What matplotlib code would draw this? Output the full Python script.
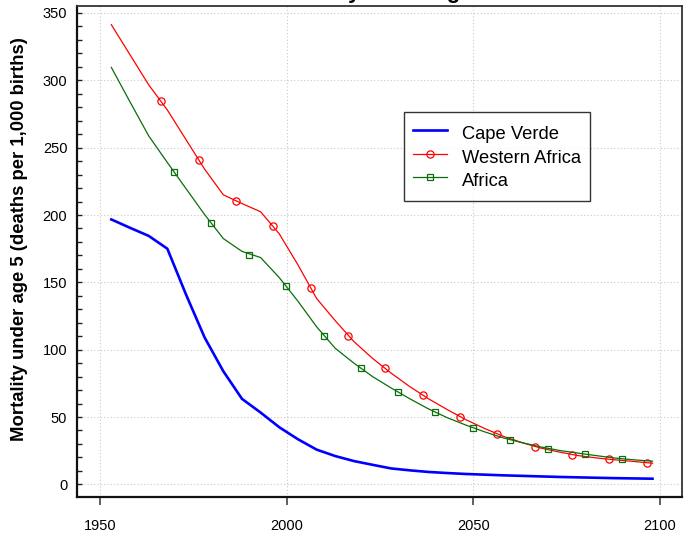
import matplotlib
matplotlib.use("Agg")
import matplotlib.pyplot as plt
from matplotlib.legend_handler import HandlerTuple

# -------------------------------
# DATA
# -------------------------------

years = [1953, 1958, 1963, 1968, 1973, 1978, 1983, 1988, 1993, 1998,
         2003, 2008, 2013, 2018, 2023, 2028, 2033, 2038, 2043, 2048,
         2053, 2058, 2063, 2068, 2073, 2078, 2083, 2088, 2093, 2098]

cape_verde = [196.7, 190.5, 184.5, 175.0, 141.0, 109.0, 84.0, 63.5, 53.3, 42.4,
              33.5, 25.8, 21.0, 17.3, 14.5, 11.8, 10.4, 9.2, 8.4, 7.7,
              7.2, 6.7, 6.3, 5.9, 5.5, 5.2, 4.9, 4.6, 4.4, 4.2]

western_africa = [341.3, 319.0, 296.7, 278.0, 256.0, 234.0, 215.0, 208.5, 202.4, 186.0,
                  163.0, 138.0, 121.5, 106.0, 93.5, 82.5, 72.5, 63.5, 55.5, 48.0,
                  41.5, 35.7, 31.0, 27.0, 24.0, 21.4, 19.6, 18.2, 17.0, 15.7]

africa = [309.6, 284.0, 258.8, 239.0, 219.6, 200.3, 182.5, 173.0, 168.4, 153.5,
          136.0, 117.0, 101.0, 90.0, 80.0, 71.5, 63.5, 56.0, 49.5, 44.0,
          39.0, 34.5, 31.0, 27.8, 25.2, 23.2, 21.3, 19.5, 18.2, 17.2]

# marker positions as drawn on the chart
western_mk_years = [1966.3, 1976.4, 1986.4, 1996.4, 2006.4, 2016.4, 2026.4,
                    2036.5, 2046.5, 2056.3, 2066.5, 2076.5, 2086.4, 2096.5]
western_mk_vals = [284.6, 241.2, 210.3, 192.2, 145.6, 110.2, 86.2,
                   66.1, 50.3, 37.4, 28.0, 22.0, 18.6, 15.9]

africa_mk_years = [1969.7, 1979.7, 1989.8, 1999.9, 2009.9, 2019.9, 2029.9,
                   2039.8, 2049.8, 2059.8, 2069.9, 2079.9, 2089.9]
africa_mk_vals = [232.1, 193.7, 170.4, 147.6, 110.5, 86.2, 68.6,
                  53.5, 42.1, 32.9, 26.5, 22.5, 18.8]

x_ticks = [1950, 2000, 2050, 2100]
y_ticks = [0, 50, 100, 150, 200, 250, 300, 350]

# -------------------------------
# FIGURE
# -------------------------------

plt.rcParams["font.family"] = ["Liberation Sans", "DejaVu Sans"]

fig = plt.figure(figsize=(6.95, 5.35), dpi=100)
ax = fig.add_axes([0.1108, 0.0710, 0.8705, 0.9183])

blue_line, = ax.plot(years, cape_verde, color="#0000ff", lw=1.9)
red_line, = ax.plot(years, western_africa, color="#ff0000", lw=0.9)
red_mk, = ax.plot(western_mk_years, western_mk_vals, ls="none", marker="o",
                  ms=5.2, mfc="none", mec="#ff0000", mew=0.9)
green_line, = ax.plot(years, africa, color="#0a6e0a", lw=0.9)
green_mk, = ax.plot(africa_mk_years, africa_mk_vals, ls="none", marker="s",
                    ms=5.0, mfc="none", mec="#0a6e0a", mew=0.9)

ax.set_xlim(1943.8, 2105.9)
ax.set_ylim(-9.4, 355.4)
ax.set_xticks(x_ticks)
ax.set_yticks(y_ticks)
ax.set_yticks(range(10, 350, 10), minor=True)

ax.grid(True, which="major", color="#c8c8c8", lw=0.8, ls=(0, (1, 2)))

ax.tick_params(axis="x", direction="out", length=6, width=1.2,
               color="#444444", pad=10, labelsize=10.5)
ax.tick_params(axis="y", which="both", direction="in", length=3.5,
               width=1.0, color="#222222", pad=7, labelsize=10.5)
ax.tick_params(axis="x", which="minor", length=0)

for side in ["left", "bottom"]:
    ax.spines[side].set_linewidth(1.6)
    ax.spines[side].set_color("#111111")
for side in ["top", "right"]:
    ax.spines[side].set_linewidth(1.3)
    ax.spines[side].set_color("#333333")

ax.set_ylabel("Mortality under age 5 (deaths per 1,000 births)",
              fontsize=13.3, fontweight="bold")
ax.yaxis.set_label_coords(-0.081, 0.526)

# title sits mostly above the visible area, as in the source image
ax.text(0.5, 1 + 8 / 491.3, "Mortality under age 5", transform=ax.transAxes,
        ha="center", va="baseline", fontsize=16, fontweight="bold",
        clip_on=False)

leg = ax.legend([blue_line, (red_line, red_mk), (green_line, green_mk)],
                ["Cape Verde", "Western Africa", "Africa"],
                handler_map={tuple: HandlerTuple(ndivide=1)},
                loc="upper left", bbox_to_anchor=(0.5405, 0.7836),
                borderaxespad=0, fontsize=13.2, frameon=True, fancybox=False,
                edgecolor="black", handlelength=1.86, handletextpad=0.8,
                handleheight=1.6, borderpad=0.51, labelspacing=0.0,
                numpoints=1)
leg.get_frame().set_linewidth(1.0)

fig.savefig("out.png", dpi=100)
